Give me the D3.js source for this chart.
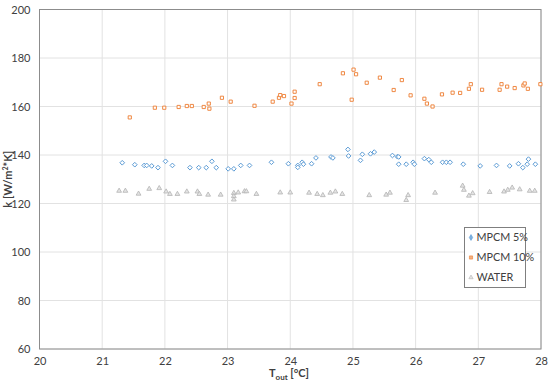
<!DOCTYPE html>
<html>
<head>
<meta charset="utf-8">
<script src="https://cdn.jsdelivr.net/npm/d3@7"></script>
<style>
  body { margin: 0; background: #fff; }
  #graph { width: 550px; height: 384px; }
  text { font-family: Lato, "Open Sans", sans-serif; fill: #404040; }
</style>
</head>
<body>
<div id="graph"></div>
<script>
// MPCM 5% : [T_out, k]
var mpcm5 = [
  [21.32, 136.8], [21.52, 136.0], [21.67, 135.7], [21.71, 135.7], [21.79, 135.5],
  [21.89, 134.8], [22.01, 137.4], [22.12, 135.7], [22.40, 134.8], [22.54, 134.8],
  [22.66, 134.8], [22.75, 137.4], [22.82, 134.8], [23.01, 134.3], [23.10, 134.3],
  [23.21, 135.7], [23.35, 135.7], [23.70, 137.0], [23.97, 136.4], [24.12, 135.7],
  [24.12, 134.9], [24.19, 137.0], [24.21, 136.2], [24.34, 136.4], [24.41, 138.8],
  [24.65, 139.2], [24.68, 138.8], [24.92, 142.3], [24.93, 139.6], [25.12, 137.8],
  [25.15, 140.3], [25.28, 140.5], [25.34, 141.2], [25.63, 139.8], [25.71, 139.3],
  [25.73, 139.2], [25.73, 136.2], [25.85, 136.2], [25.96, 137.0], [25.98, 136.2],
  [26.14, 138.5], [26.21, 138.1], [26.25, 137.0], [26.43, 137.0], [26.49, 137.0],
  [26.55, 137.0], [26.76, 136.2], [27.03, 135.5], [27.29, 135.7], [27.50, 135.5],
  [27.64, 136.4], [27.71, 134.8], [27.78, 136.2], [27.80, 138.3], [27.91, 136.2]
];

// MPCM 10%
var mpcm10 = [
  [21.44, 155.5], [21.84, 159.5], [21.99, 159.5], [22.22, 159.8], [22.35, 160.2],
  [22.43, 160.2], [22.62, 159.8], [22.70, 161.2], [22.71, 159.1], [22.91, 163.6],
  [23.05, 162.0], [23.43, 160.3], [23.72, 162.0], [23.82, 163.6], [23.84, 164.7],
  [23.90, 164.3], [24.02, 161.2], [24.07, 163.5], [24.07, 166.1], [24.47, 169.2],
  [24.84, 173.7], [24.98, 162.8], [25.01, 175.2], [25.05, 173.3], [25.22, 169.8],
  [25.43, 171.9], [25.65, 166.8], [25.78, 170.9], [25.92, 164.6], [26.14, 163.2],
  [26.18, 161.2], [26.27, 160.0], [26.42, 165.0], [26.59, 165.7], [26.71, 165.6],
  [26.85, 167.3], [26.88, 169.2], [27.06, 166.9], [27.34, 166.9], [27.37, 169.2],
  [27.46, 168.2], [27.58, 167.6], [27.72, 168.7], [27.74, 169.5], [27.79, 167.3],
  [27.99, 169.2]
];

// WATER
var water = [
  [21.27, 125.2], [21.37, 125.2], [21.58, 124.0], [21.75, 126.0], [21.91, 126.3],
  [22.02, 124.9], [22.08, 123.9], [22.20, 123.9], [22.35, 124.9], [22.52, 124.9],
  [22.55, 123.9], [22.69, 123.6], [22.89, 123.6], [23.10, 124.3], [23.10, 123.0],
  [23.10, 121.6], [23.17, 124.5], [23.27, 125.0], [23.30, 125.0], [23.46, 123.9],
  [23.84, 124.5], [24.00, 124.5], [24.30, 124.4], [24.43, 123.9], [24.52, 123.4],
  [24.64, 124.4], [24.72, 124.9], [24.83, 123.9], [25.26, 123.4], [25.53, 123.6],
  [25.59, 124.4], [25.85, 121.4], [25.88, 123.4], [26.31, 124.4], [26.75, 127.3],
  [26.77, 125.6], [26.85, 123.2], [26.91, 124.2], [27.18, 124.7], [27.41, 124.9],
  [27.47, 125.6], [27.54, 126.5], [27.66, 125.8], [27.82, 125.2], [27.90, 125.2]
];

var xTicks = [20, 21, 22, 23, 24, 25, 26, 27, 28];
var yTicks = [60, 80, 100, 120, 140, 160, 180, 200];
var seriesNames = ["MPCM 5%", "MPCM 10%", "WATER"];

var margin = { top: 9.5, right: 9, bottom: 35, left: 39.5 },
    width = 550 - margin.left - margin.right,
    height = 384 - margin.top - margin.bottom;

var x = d3.scaleLinear().domain([20, 28]).range([0, width]);
var y = d3.scaleLinear().domain([60, 200]).range([height, 0]);

var svg = d3.select("#graph").append("svg")
    .attr("width", 550)
    .attr("height", 384)
    .append("g")
    .attr("transform", "translate(" + margin.left + "," + margin.top + ")");

// grid lines
svg.append("g")
    .selectAll("line")
    .data(yTicks)
    .enter().append("line")
    .attr("x1", 0).attr("x2", width)
    .attr("y1", d => y(d)).attr("y2", d => y(d))
    .attr("stroke", "#e2e2e2");

svg.append("g")
    .selectAll("line")
    .data(xTicks)
    .enter().append("line")
    .attr("y1", 0).attr("y2", height)
    .attr("x1", d => x(d)).attr("x2", d => x(d))
    .attr("stroke", "#e2e2e2");

// plot border
svg.append("rect")
    .attr("width", width)
    .attr("height", height)
    .attr("fill", "none")
    .attr("stroke", "#8c8c8c");

// axes
var xAxis = svg.append("g")
    .attr("transform", "translate(0," + height + ")")
    .call(d3.axisBottom(x).tickValues(xTicks).tickSize(0).tickPadding(8).tickFormat(d3.format("d")));
var yAxis = svg.append("g")
    .call(d3.axisLeft(y).tickValues(yTicks).tickSize(0).tickPadding(9).tickFormat(d3.format("d")));

[xAxis, yAxis].forEach(a => {
    a.select(".domain").remove();
    a.selectAll("text").style("font-size", "11px").attr("fill", "#404040")
        .style("font-family", "Lato, 'Open Sans', sans-serif");
});

// markers
var diamond = d3.symbol().type(d3.symbolDiamond2).size(14);
var square = d3.symbol().type(d3.symbolSquare2).size(13);
var triangle = d3.symbol().type(d3.symbolTriangle).size(10);

svg.append("g").selectAll("path")
    .data(water).enter().append("path")
    .attr("d", triangle)
    .attr("transform", d => "translate(" + x(d[0]) + "," + y(d[1]) + ")")
    .attr("fill", "#e4e4e4")
    .attr("stroke", "#b4b4b4")
    .attr("stroke-width", 0.8);

svg.append("g").selectAll("path")
    .data(mpcm10).enter().append("path")
    .attr("d", square)
    .attr("transform", d => "translate(" + x(d[0]) + "," + y(d[1]) + ")")
    .attr("fill", "#fff")
    .attr("stroke", "#ed7d31")
    .attr("stroke-width", 0.9);

svg.append("g").selectAll("path")
    .data(mpcm5).enter().append("path")
    .attr("d", diamond)
    .attr("transform", d => "translate(" + x(d[0]) + "," + y(d[1]) + ")")
    .attr("fill", "#fff")
    .attr("stroke", "#5b9bd5")
    .attr("stroke-width", 1);

// legend
var legend = svg.append("g")
    .attr("transform", "translate(" + (464.5 - margin.left) + "," + (227.5 - margin.top) + ")");

legend.append("rect")
    .attr("width", 61)
    .attr("height", 60)
    .attr("fill", "#fff")
    .attr("stroke", "#7f7f7f");

var legendMarks = [
    { sym: d3.symbol().type(d3.symbolDiamond).size(10), fill: "#7fb2e0", stroke: "#5b9bd5" },
    { sym: d3.symbol().type(d3.symbolSquare).size(10), fill: "#f4b183", stroke: "#ed7d31" },
    { sym: d3.symbol().type(d3.symbolTriangle).size(8), fill: "#e4e4e4", stroke: "#b4b4b4" }
];

seriesNames.forEach((name, i) => {
    var row = legend.append("g")
        .attr("transform", "translate(0," + (10 + i * 20) + ")");
    row.append("path")
        .attr("d", legendMarks[i].sym)
        .attr("transform", "translate(6.5,0)")
        .attr("fill", legendMarks[i].fill)
        .attr("stroke", legendMarks[i].stroke)
        .attr("stroke-width", 0.6);
    row.append("text")
        .attr("x", 12)
        .attr("dy", "0.35em")
        .style("font-size", "10.8px")
        .text(name);
});

// axis titles
svg.append("text")
    .attr("transform", "translate(" + (12 - margin.left) + "," + (height / 2) + ") rotate(-90)")
    .attr("text-anchor", "middle")
    .style("font-size", "11px")
    .style("font-weight", "bold")
    .html("k [W/m<tspan dy='-4' font-size='7'>2</tspan><tspan dy='4'>*K]</tspan>");

var xt = svg.append("text")
    .attr("x", 289 - margin.left)
    .attr("y", 377 - margin.top)
    .attr("text-anchor", "middle")
    .style("font-size", "11px")
    .style("font-weight", "bold");
xt.append("tspan").text("T");
xt.append("tspan").attr("dy", 3).style("font-size", "8px").text("out");
xt.append("tspan").attr("dy", -3).text(" [°C]");
</script>
</body>
</html>
